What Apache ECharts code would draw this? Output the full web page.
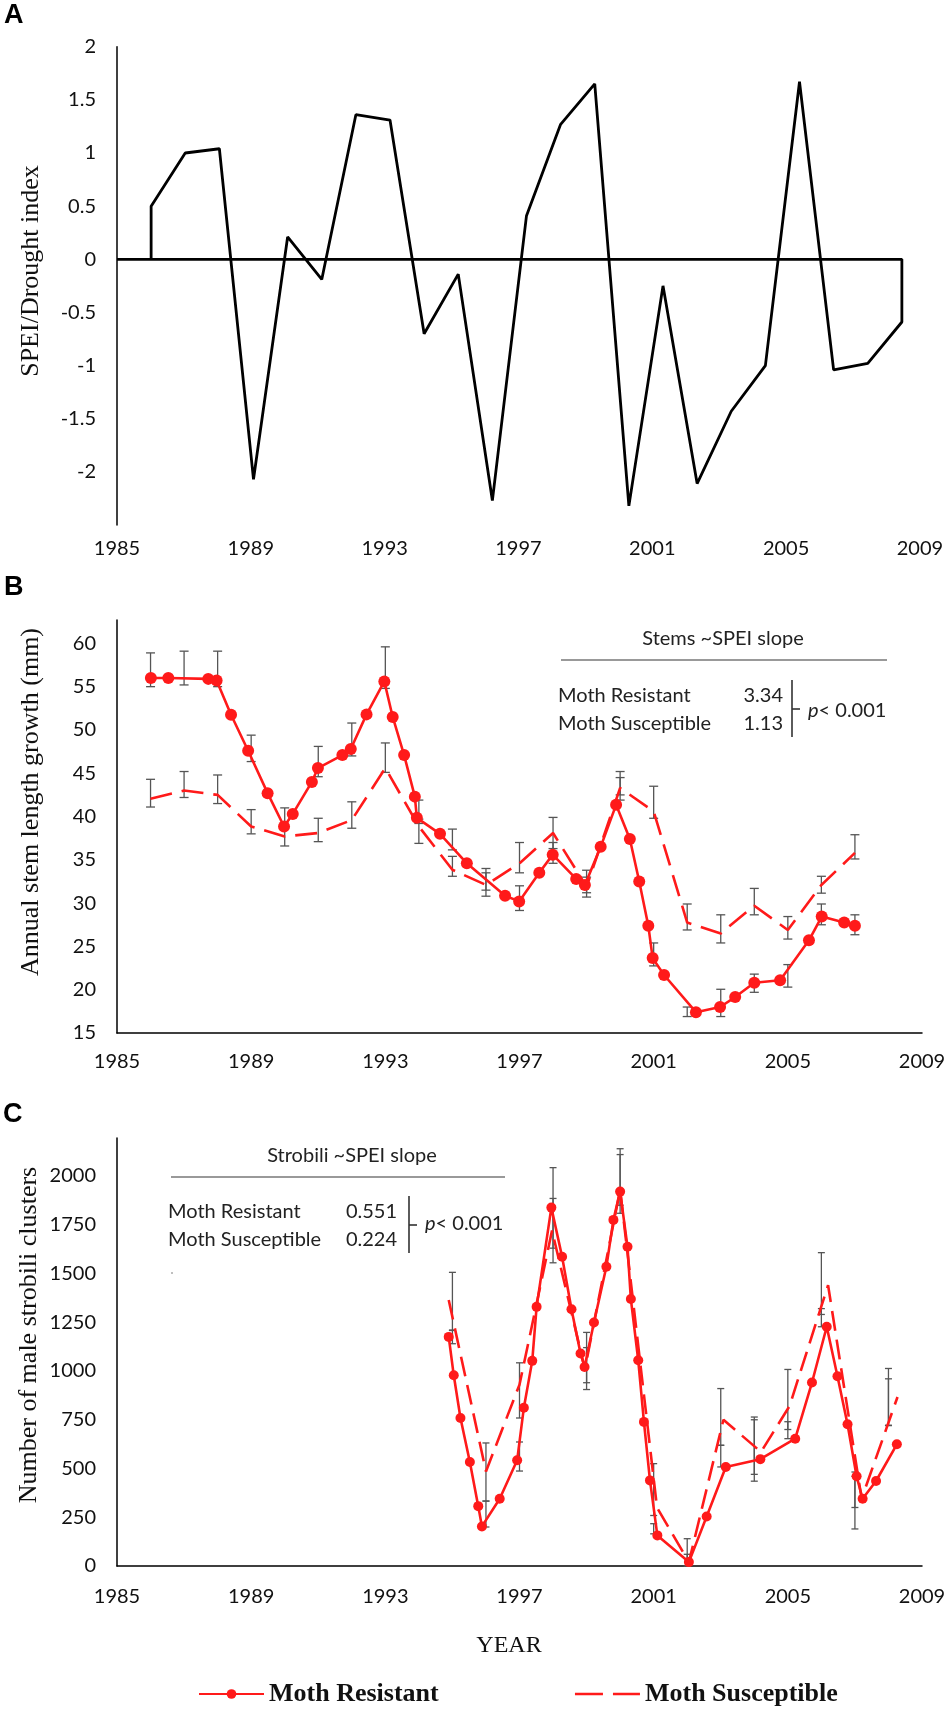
<!DOCTYPE html>
<html><head><meta charset="utf-8">
<script src="https://cdn.jsdelivr.net/npm/echarts@6/dist/echarts.min.js"></script>
<style>html,body{margin:0;padding:0;background:#fff}#c{width:950px;height:1709px}</style>
</head><body><div id="c"></div>
<script>
// ---------- Panel A: SPEI drought index ----------
const speiYears = [1986,1987,1988,1989,1990,1991,1992,1993,1994,1995,1996,1997,1998,1999,2000,2001,2002,2003,2004,2005,2006,2007,2008];
const speiValues = [0.50,1.00,1.04,-2.07,0.21,-0.19,1.36,1.31,-0.70,-0.14,-2.27,0.41,1.27,1.65,-2.32,-0.25,-2.11,-1.43,-1.00,1.67,-1.04,-0.98,-0.59];
const speiBaselineStart = 1985;
const speiTicks = [-2,-1.5,-1,-0.5,0,0.5,1,1.5,2];

// ---------- Panel B: annual stem length growth ----------
const stemYears = [1986,1987,1988,1989,1990,1991,1992,1993,1994,1995,1996,1997,1998,1999,2000,2001,2002,2003,2004,2005,2006,2007];
const stemSusceptible = [42.05,43.0,42.5,38.85,37.7,38.1,39.6,45.6,38.85,33.85,32.1,34.6,38.1,31.9,43.3,40.6,27.75,26.5,29.7,26.9,32.1,35.8];
const stemResistantX = [1986.01,1986.53,1987.72,1987.97,1988.40,1988.91,1989.49,1989.98,1990.24,1990.81,1990.99,1991.72,1991.97,1992.44,1992.97,1993.22,1993.56,1993.88,1993.94,1994.63,1995.43,1996.57,1996.99,1997.59,1997.99,1998.69,1998.95,1999.42,1999.88,2000.29,2000.57,2000.84,2000.97,2001.31,2002.26,2002.98,2003.43,2004.00,2004.77,2005.63,2006.01,2006.68,2007.00];
const stemResistantY = [56.0,56.0,55.9,55.7,51.75,47.6,42.7,38.85,40.3,44.0,45.6,47.1,47.8,51.8,55.6,51.5,47.1,42.3,39.85,38.0,34.6,30.85,30.2,33.5,35.6,32.8,32.1,36.5,41.35,37.4,32.5,27.4,23.65,21.7,17.4,18.0,19.15,20.8,21.1,25.7,28.45,27.75,27.4];
const stemResLow  = [55.0,55.2,55.0,46.35,38.8,44.6,47.0,54.8,39.2,36.15,30.8,29.15,34.6,30.7,42.5,22.75,16.9,16.9,19.7,20.3,27.5,26.35];
const stemResHigh = [58.9,59.1,59.1,49.4,41.0,48.1,50.8,59.6,41.9,38.55,33.5,32.0,37.0,33.0,45.2,25.4,18.0,20.05,21.8,22.9,29.9,28.65];
const stemSusLow  = [41.1,42.2,41.5,38.0,36.6,37.1,38.65,45.1,36.9,33.1,31.5,33.5,36.3,31.2,41.9,39.8,26.9,25.4,28.65,25.85,31.15,35.1];
const stemSusHigh = [44.3,45.2,44.8,40.8,38.7,39.8,41.7,48.5,39.7,35.4,34.0,37.0,39.9,33.8,44.5,43.5,29.9,28.65,31.7,28.45,33.1,37.9];
const stemTicks = [15,20,25,30,35,40,45,50,55,60];

// ---------- Panel C: male strobili clusters ----------
const strobResistantX = [1994.89,1995.04,1995.24,1995.52,1995.77,1995.88,1996.41,1996.93,1997.13,1997.38,1997.51,1997.95,1998.27,1998.55,1998.82,1998.94,1999.22,1999.59,1999.80,2000.00,2000.22,2000.32,2000.54,2000.71,2000.89,2001.11,2002.05,2002.58,2003.15,2004.18,2005.22,2005.72,2006.16,2006.48,2006.78,2007.05,2007.23,2007.63,2008.25];
const strobResistantY = [1175,978,759,533,307,203,345,542,812,1052,1329,1838,1586,1317,1090,1021,1249,1535,1775,1920,1637,1369,1055,739,439,157,20,254,508,548,653,941,1227,973,727,460,345,436,624];
const strobSusceptibleX = [1994.89,1996.0,1997.0,1997.97,1998.95,2000.0,2001.1,2002.05,2003.08,2004.2,2005.05,2006.2,2007.2,2008.27];
const strobSusceptibleY = [1364,485,930,1720,1010,1930,300,20,750,585,820,1440,345,867];
const strobErrYears = [1995,1996,1997,1998,1999,2000,2001,2002,2003,2004,2005,2006,2007,2008];
const strobResLow  = [1140,200,487,1630,905,1809,165,0,508,470,653,1227,300,720];
const strobResHigh = [1210,333,636,2043,1120,2140,217,60,619,750,740,1320,460,960];
const strobSusLow  = [1208,333,759,1555,940,1850,259,0,619,435,700,1290,190,722];
const strobSusHigh = [1506,631,1042,1885,1198,2110,525,140,910,764,1008,1607,482,1013];
const strobTicks = [0,250,500,750,1000,1250,1500,1750,2000];

const xTicks = [1985,1989,1993,1997,2001,2005,2009];

// ---------- helpers ----------
const zip = (xs, ys) => xs.map((x, i) => [x, ys[i]]);
const zip3 = (xs, a, b) => xs.map((x, i) => [x, a[i], b[i]]);
const speiData = [[speiYears[0], 0]].concat(zip(speiYears, speiValues),
  [[speiYears[speiYears.length - 1], 0], [speiBaselineStart, 0]]);

const RED = '#ff1a1a';
const LBL = {fontFamily: 'Lato', fontSize: 20, color: '#111'};
const SERIF = 'Liberation Serif';
const noFmt = v => String(v);
const ANN = '20px Lato';

function errRender(capHalf) {
  return function (params, api) {
    const x = api.value(0), lo = api.value(1), hi = api.value(2);
    const a = api.coord([x, lo]), b = api.coord([x, hi]);
    const st = {stroke: '#555', lineWidth: 1.3};
    return {type: 'group', children: [
      {type: 'line', shape: {x1: a[0], y1: a[1], x2: b[0], y2: b[1]}, style: st},
      {type: 'line', shape: {x1: a[0] - capHalf, y1: a[1], x2: a[0] + capHalf, y2: a[1]}, style: st},
      {type: 'line', shape: {x1: b[0] - capHalf, y1: b[1], x2: b[0] + capHalf, y2: b[1]}, style: st}
    ]};
  };
}

function xAxisCfg(gridIndex, margin, showLine) {
  return {
    type: 'value', gridIndex, min: 1985, max: 2009, interval: 4,
    axisLine: {show: showLine, lineStyle: {color: '#000', width: 1.5}},
    axisTick: {show: false}, splitLine: {show: false},
    axisLabel: Object.assign({margin, formatter: noFmt}, LBL)
  };
}
function yAxisCfg(gridIndex, min, max, ticks) {
  return {
    type: 'value', gridIndex, min, max,
    axisLine: {show: true, lineStyle: {color: '#000', width: 1.5}},
    axisTick: {show: false}, splitLine: {show: false},
    axisLabel: Object.assign({margin: 21, formatter: noFmt, customValues: ticks}, LBL)
  };
}

const chart = echarts.init(document.getElementById('c'), null, {renderer: 'canvas'});

const option = {
  animation: false,
  backgroundColor: '#fff',
  grid: [
    {left: 117, top: 46.7, width: 819, height: 478.3},
    {left: 117, top: 620, width: 805, height: 413},
    {left: 117, top: 1138, width: 805, height: 428}
  ],
  xAxis: [
    {type: 'value', gridIndex: 0, min: 1985, max: 2009.48,
      axisLine: {show: false}, axisTick: {show: false}, splitLine: {show: false},
      axisLabel: Object.assign({margin: 14, formatter: noFmt, customValues: xTicks}, LBL)},
    xAxisCfg(1, 19, true),
    xAxisCfg(2, 21, true),
    {type: 'value', gridIndex: 0, min: 1985, max: 2009, show: false}
  ],
  yAxis: [
    yAxisCfg(0, -2.5, 2, speiTicks),
    yAxisCfg(1, 15, 62.7, stemTicks),
    yAxisCfg(2, 0, 2195, strobTicks)
  ],
  legend: {
    data: [
      {name: 'Moth Resistant'},
      {name: 'Moth Susceptible', itemStyle: {opacity: 0}, lineStyle: {type: [28, 10], width: 2.5}}
    ],
    left: 193, top: 1676, itemWidth: 65, itemHeight: 12, itemGap: 135,
    selectedMode: false,
    textStyle: {fontFamily: SERIF, fontWeight: 'bold', fontSize: 26, color: '#111'}
  },
  series: [
    {type: 'line', name: 'SPEI', xAxisIndex: 3, yAxisIndex: 0, data: speiData,
      symbol: 'none', lineStyle: {color: '#000', width: 2.8}, itemStyle: {color: '#000'}},

    {type: 'custom', name: 'errB1', xAxisIndex: 1, yAxisIndex: 1, renderItem: errRender(4.5),
      data: zip3(stemYears, stemResLow, stemResHigh), encode: {x: 0, y: [1, 2]}, z: 1},
    {type: 'custom', name: 'errB2', xAxisIndex: 1, yAxisIndex: 1, renderItem: errRender(4.5),
      data: zip3(stemYears, stemSusLow, stemSusHigh), encode: {x: 0, y: [1, 2]}, z: 1},
    {type: 'line', name: 'Moth Susceptible', xAxisIndex: 1, yAxisIndex: 1,
      data: zip(stemYears, stemSusceptible), symbol: 'none',
      lineStyle: {color: RED, width: 2.6, type: [22, 10]}, itemStyle: {color: RED}, z: 3},
    {type: 'line', name: 'Moth Resistant', xAxisIndex: 1, yAxisIndex: 1,
      data: zip(stemResistantX, stemResistantY), symbol: 'circle', symbolSize: 12, showAllSymbol: true,
      lineStyle: {color: RED, width: 2.6}, itemStyle: {color: RED}, z: 4},

    {type: 'custom', name: 'errC1', xAxisIndex: 2, yAxisIndex: 2, renderItem: errRender(3.5),
      data: zip3(strobErrYears, strobResLow, strobResHigh), encode: {x: 0, y: [1, 2]}, z: 1},
    {type: 'custom', name: 'errC2', xAxisIndex: 2, yAxisIndex: 2, renderItem: errRender(3.5),
      data: zip3(strobErrYears, strobSusLow, strobSusHigh), encode: {x: 0, y: [1, 2]}, z: 1},
    {type: 'line', name: 'Moth Susceptible', xAxisIndex: 2, yAxisIndex: 2,
      data: zip(strobSusceptibleX, strobSusceptibleY), symbol: 'none',
      lineStyle: {color: RED, width: 2.6, type: [20, 9]}, itemStyle: {color: RED}, z: 3},
    {type: 'line', name: 'Moth Resistant', xAxisIndex: 2, yAxisIndex: 2,
      data: zip(strobResistantX, strobResistantY), symbol: 'circle', symbolSize: 10, showAllSymbol: true,
      lineStyle: {color: RED, width: 2.6}, itemStyle: {color: RED}, z: 4}
  ],
  graphic: [
    {type: 'text', left: 4, top: 2, style: {text: 'A', font: 'bold 27px "Liberation Sans"', fill: '#000'}},
    {type: 'text', left: 4, top: 574, style: {text: 'B', font: 'bold 27px "Liberation Sans"', fill: '#000'}},
    {type: 'text', left: 3, top: 1101, style: {text: 'C', font: 'bold 27px "Liberation Sans"', fill: '#000'}},
    {type: 'text', x: 31, y: 271, rotation: Math.PI / 2,
      style: {text: 'SPEI/Drought index', font: '26px "Liberation Serif"', fill: '#111', align: 'center', verticalAlign: 'middle'}},
    {type: 'text', x: 31, y: 802, rotation: Math.PI / 2,
      style: {text: 'Annual stem length growth (mm)', font: '26px "Liberation Serif"', fill: '#111', align: 'center', verticalAlign: 'middle'}},
    {type: 'text', x: 29, y: 1335, rotation: Math.PI / 2,
      style: {text: 'Number of male strobili clusters', font: '26px "Liberation Serif"', fill: '#111', align: 'center', verticalAlign: 'middle'}},
    {type: 'text', x: 509, y: 1646,
      style: {text: 'YEAR', font: '24px "Liberation Serif"', fill: '#111', align: 'center', verticalAlign: 'middle'}},

    {type: 'text', x: 723, y: 639, style: {text: 'Stems ~SPEI slope', font: ANN, fill: '#222', align: 'center', verticalAlign: 'middle'}},
    {type: 'line', shape: {x1: 561, y1: 660, x2: 887, y2: 660}, style: {stroke: '#777', lineWidth: 1.5}},
    {type: 'text', x: 558, y: 696, style: {text: 'Moth Resistant', font: ANN, fill: '#222', align: 'left', verticalAlign: 'middle'}},
    {type: 'text', x: 783, y: 696, style: {text: '3.34', font: ANN, fill: '#222', align: 'right', verticalAlign: 'middle'}},
    {type: 'text', x: 558, y: 724, style: {text: 'Moth Susceptible', font: ANN, fill: '#222', align: 'left', verticalAlign: 'middle'}},
    {type: 'text', x: 783, y: 724, style: {text: '1.13', font: ANN, fill: '#222', align: 'right', verticalAlign: 'middle'}},
    {type: 'line', shape: {x1: 792, y1: 680, x2: 792, y2: 737}, style: {stroke: '#333', lineWidth: 1.6}},
    {type: 'line', shape: {x1: 792, y1: 709, x2: 800, y2: 709}, style: {stroke: '#333', lineWidth: 1.6}},
    {type: 'text', x: 808, y: 711, style: {text: '{i|p}< 0.001', font: ANN, fill: '#222', align: 'left', verticalAlign: 'middle',
      rich: {i: {fontStyle: 'italic', fontFamily: 'Lato', fontSize: 20, fill: '#222'}}}},

    {type: 'text', x: 352, y: 1156, style: {text: 'Strobili ~SPEI slope', font: ANN, fill: '#222', align: 'center', verticalAlign: 'middle'}},
    {type: 'line', shape: {x1: 171, y1: 1177, x2: 505, y2: 1177}, style: {stroke: '#777', lineWidth: 1.5}},
    {type: 'text', x: 168, y: 1212, style: {text: 'Moth Resistant', font: ANN, fill: '#222', align: 'left', verticalAlign: 'middle'}},
    {type: 'text', x: 397, y: 1212, style: {text: '0.551', font: ANN, fill: '#222', align: 'right', verticalAlign: 'middle'}},
    {type: 'text', x: 168, y: 1240, style: {text: 'Moth Susceptible', font: ANN, fill: '#222', align: 'left', verticalAlign: 'middle'}},
    {type: 'text', x: 397, y: 1240, style: {text: '0.224', font: ANN, fill: '#222', align: 'right', verticalAlign: 'middle'}},
    {type: 'line', shape: {x1: 409, y1: 1196, x2: 409, y2: 1253}, style: {stroke: '#333', lineWidth: 1.6}},
    {type: 'line', shape: {x1: 409, y1: 1225, x2: 417, y2: 1225}, style: {stroke: '#333', lineWidth: 1.6}},
    {type: 'text', x: 425, y: 1224, style: {text: '{i|p}< 0.001', font: ANN, fill: '#222', align: 'left', verticalAlign: 'middle',
      rich: {i: {fontStyle: 'italic', fontFamily: 'Lato', fontSize: 20, fill: '#222'}}}},
    {type: 'circle', shape: {cx: 172, cy: 1273, r: 1}, style: {fill: '#aaa'}}
  ]
};
chart.setOption(option);
</script>
</body></html>
